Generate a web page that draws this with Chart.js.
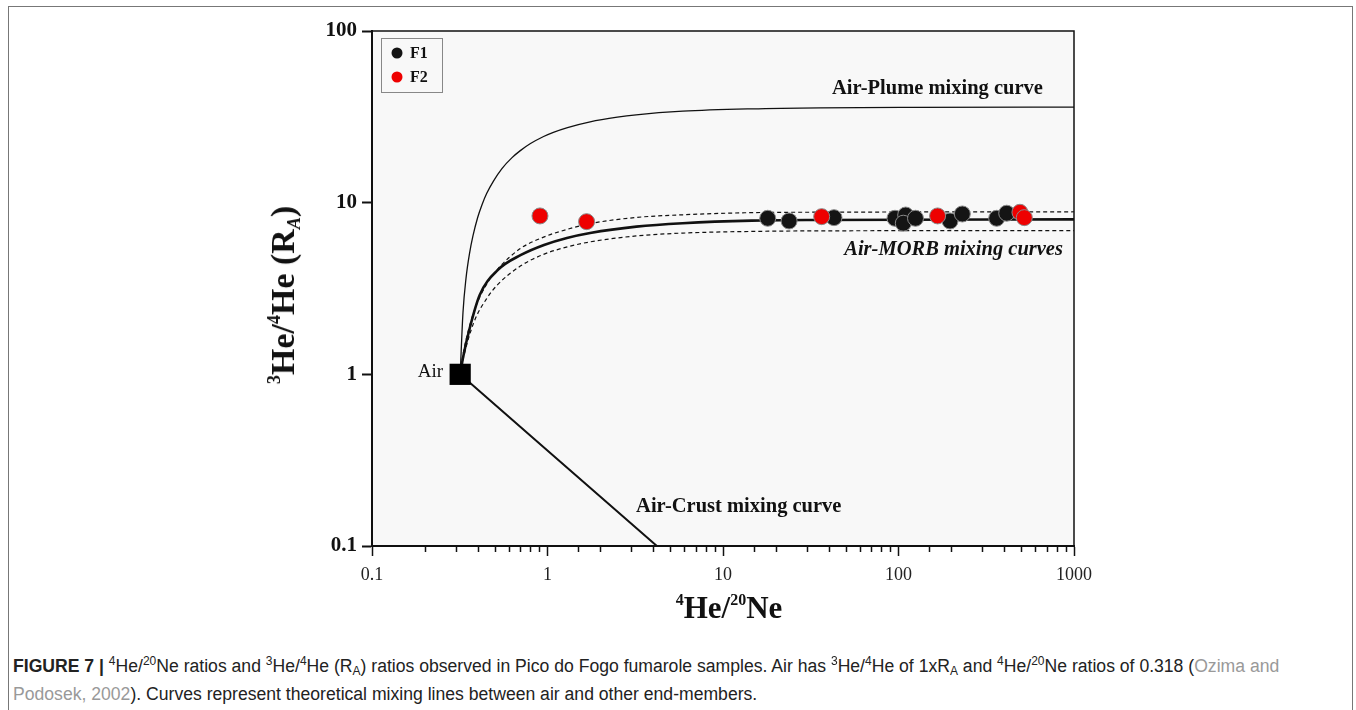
<!DOCTYPE html>
<html>
<head>
<meta charset="utf-8">
<script src="https://cdn.jsdelivr.net/npm/chart.js@4.4.1/dist/chart.umd.min.js"></script>
<style>
  body { margin: 0; background: #fff; width: 1356px; height: 710px; overflow: hidden; position: relative; }
  #frame { position: absolute; left: 8px; top: 6px; width: 1345px; height: 760px; border: 1px solid #777; box-sizing: border-box; }
  #graph { position: absolute; left: 0; top: 0; }
  .axis-title { position: absolute; font-family: 'Liberation Serif', serif; font-weight: bold; color: #111; white-space: nowrap; line-height: 1; }
  #ytitle { left: 283px; top: 295px; font-size: 34px; transform: translate(-50%, -50%) rotate(-90deg); }
  #ytitle .up { font-size: 18px; position: relative; top: -14px; }
  #ytitle .dn { font-size: 18px; font-style: italic; position: relative; top: 6px; }
  #xtitle { left: 729px; top: 607px; font-size: 31px; transform: translate(-50%, -50%); }
  #xtitle .up { font-size: 16px; position: relative; top: -13px; }
  #caption { position: absolute; left: 13px; top: 653px; font-family: 'Liberation Sans', Arial, sans-serif; font-size: 17.6px; line-height: 26px; color: #222; white-space: nowrap; }
  #caption .up { font-size: 12px; position: relative; top: -7px; }
  #caption .dn { font-size: 12px; position: relative; top: 3px; }
  #caption .ref { color: #999; }
</style>
</head>
<body>
<div id="frame"></div>
<canvas id="graph" width="1356" height="640"></canvas>
<div class="axis-title" id="ytitle"><span class="up">3</span>He/<span class="up">4</span>He (R<span class="dn">A</span>)</div>
<div class="axis-title" id="xtitle"><span class="up">4</span>He/<span class="up">20</span>Ne</div>
<div id="caption">
  <b>FIGURE 7 |</b> <span class="up">4</span>He/<span class="up">20</span>Ne ratios and <span class="up">3</span>He/<span class="up">4</span>He (R<span class="dn">A</span>) ratios observed in Pico do Fogo fumarole samples. Air has <span class="up">3</span>He/<span class="up">4</span>He of 1xR<span class="dn">A</span> and <span class="up">4</span>He/<span class="up">20</span>Ne ratios of 0.318 (<span class="ref">Ozima and</span><br>
  <span class="ref">Podosek, 2002</span>). Curves represent theoretical mixing lines between air and other end-members.
</div>

<script>
// fumarole samples, 4He/20Ne vs 3He/4He (RA)
let f1X = [17.98, 23.8, 42.9, 95.5, 109.9, 106.5, 125, 196.6, 231, 362.6, 413.6];
let f1Y = [8.11, 7.82, 8.18, 8.11, 8.47, 7.59, 8.11, 7.82, 8.59, 8.11, 8.68];

let f2X = [0.906, 1.67, 36.5, 167, 492, 521];
let f2Y = [8.37, 7.75, 8.29, 8.37, 8.79, 8.18];

// air end-member
let airX = [0.318];
let airY = [1];

// mixing curves
let plumeX = [0.318, 0.33, 0.343, 0.36, 0.376, 0.40, 0.423, 0.45, 0.493, 0.55, 0.628, 0.70, 0.80, 0.95, 1.08, 1.3, 1.75, 2.5, 3.2, 5.9, 14.6, 36, 121, 1000];
let plumeY = [1, 2.3, 3.6, 5.1, 6.4, 8.2, 9.7, 11.3, 13.4, 15.8, 18.3, 20.1, 22.1, 24.3, 25.7, 27.4, 29.6, 31.5, 32.5, 34.1, 35.2, 35.7, 35.9, 36];

let morbX = [0.318, 0.33, 0.36, 0.411, 0.522, 0.706, 0.955, 1.29, 1.75, 3.21, 5.89, 14.6, 36.1, 1000];
let morbY = [1, 1.25, 1.85, 2.9, 4.06, 4.96, 5.67, 6.23, 6.66, 7.25, 7.59, 7.86, 7.93, 7.99];

let morbHiX = [0.318, 0.33, 0.38, 0.45, 0.52, 0.70, 0.95, 1.3, 1.75, 3.2, 5.9, 14.6, 36, 1000];
let morbHiY = [1, 1.3, 2.3, 3.35, 4.1, 5.4, 6.3, 7.0, 7.55, 8.2, 8.5, 8.75, 8.8, 8.85];

let morbLoX = [0.318, 0.33, 0.38, 0.45, 0.52, 0.70, 0.95, 1.3, 1.75, 3.2, 5.9, 14.6, 36, 1000];
let morbLoY = [1, 1.22, 2.0, 2.76, 3.33, 4.27, 5.0, 5.53, 5.91, 6.4, 6.65, 6.8, 6.85, 6.88];

let crustX = [0.318, 4.2];
let crustY = [1, 0.1];

let xTicks = [0.1, 1, 10, 100, 1000];
let yTicks = [0.1, 1, 10, 100];

function pts(xs, ys) {
    return xs.map((v, i) => ({ x: v, y: ys[i] }));
}

function isDecade(v) {
    let l = Math.log10(v);
    return Math.abs(l - Math.round(l)) < 1e-6;
}

function curve(xs, ys, width, dash, order) {
    return {
        data: pts(xs, ys),
        showLine: true,
        borderColor: '#111',
        borderWidth: width,
        borderDash: dash,
        pointRadius: 0,
        cubicInterpolationMode: 'monotone',
        order: order
    };
}

const serif = '"Liberation Serif", "Times New Roman", serif';

// grey plot area behind everything
const plotBg = {
    id: 'plotBg',
    beforeDraw(chart) {
        let a = chart.chartArea, ctx = chart.ctx;
        ctx.save();
        ctx.fillStyle = '#f8f8f8';
        ctx.fillRect(a.left, a.top, a.right - a.left, a.bottom - a.top);
        ctx.restore();
    }
};

// short minor ticks on the x axis, frame, legend and text labels
const extras = {
    id: 'extras',
    afterDraw(chart) {
        let ctx = chart.ctx, a = chart.chartArea;
        let x = chart.scales.x, y = chart.scales.y;
        ctx.save();

        ctx.strokeStyle = '#111';
        ctx.lineWidth = 1.5;
        x.ticks.forEach(t => {
            if (isDecade(t.value)) return;
            let px = Math.round(x.getPixelForValue(t.value)) + 0.5;
            ctx.beginPath();
            ctx.moveTo(px, a.bottom);
            ctx.lineTo(px, a.bottom + 6);
            ctx.stroke();
        });

        ctx.lineWidth = 1.5;
        ctx.strokeRect(a.left, a.top, a.right - a.left, a.bottom - a.top);

        // legend box
        let lx = a.left + 9, ly = a.top + 7;
        ctx.fillStyle = '#f8f8f8';
        ctx.fillRect(lx, ly, 61, 54);
        ctx.strokeStyle = '#888';
        ctx.lineWidth = 1;
        ctx.strokeRect(lx + 0.5, ly + 0.5, 61, 54);
        [0, 1].forEach((di, k) => {
            let ds = chart.data.datasets[di];
            ctx.beginPath();
            ctx.arc(lx + 16, ly + 15 + k * 24, 5.5, 0, Math.PI * 2);
            ctx.fillStyle = ds.backgroundColor;
            ctx.fill();
            ctx.fillStyle = '#111';
            ctx.font = 'bold 16px ' + serif;
            ctx.textAlign = 'left';
            ctx.textBaseline = 'middle';
            ctx.fillText(ds.label, lx + 29, ly + 16 + k * 24);
        });

        // curve names
        ctx.fillStyle = '#111';
        ctx.textBaseline = 'middle';
        ctx.font = 'bold 20.5px ' + serif;
        ctx.textAlign = 'right';
        ctx.fillText('Air-Plume mixing curve', x.getPixelForValue(665), y.getPixelForValue(46));
        ctx.font = 'italic bold 20.5px ' + serif;
        ctx.fillText('Air-MORB mixing curves', x.getPixelForValue(865), y.getPixelForValue(5.3));
        ctx.font = 'bold 20.5px ' + serif;
        ctx.textAlign = 'center';
        ctx.fillText('Air-Crust mixing curve', x.getPixelForValue(12.3), y.getPixelForValue(0.169));
        ctx.font = '19px ' + serif;
        ctx.textAlign = 'right';
        ctx.fillText('Air', x.getPixelForValue(airX[0]) - 17, y.getPixelForValue(airY[0]) - 2);

        ctx.restore();
    }
};

let ctx = document.querySelector('#graph').getContext('2d');

let myChart = new Chart(ctx, {
    type: 'scatter',
    data: {
        datasets: [
            {
                label: 'F1',
                data: pts(f1X, f1Y),
                backgroundColor: '#141414',
                borderColor: '#8a8a8a',
                borderWidth: 1,
                pointRadius: 8,
                order: 1
            },
            {
                label: 'F2',
                data: pts(f2X, f2Y),
                backgroundColor: '#ee0000',
                borderColor: '#8a8a8a',
                borderWidth: 1,
                pointRadius: 8,
                order: 0
            },
            {
                label: 'Air',
                data: pts(airX, airY),
                pointStyle: 'rect',
                pointRadius: 15,
                backgroundColor: '#000',
                borderColor: '#000',
                borderWidth: 0,
                order: 2
            },
            curve(plumeX, plumeY, 1.3, [], 3),
            curve(morbX, morbY, 2.6, [], 3),
            curve(morbHiX, morbHiY, 1.2, [4, 3], 3),
            curve(morbLoX, morbLoY, 1.2, [4, 3], 3),
            curve(crustX, crustY, 2, [], 3)
        ]
    },
    options: {
        responsive: false,
        animation: false,
        devicePixelRatio: 1,
        events: [],
        layout: { padding: { left: 0, top: 31, right: 282, bottom: 34 } },
        plugins: {
            legend: { display: false },
            tooltip: { enabled: false }
        },
        scales: {
            x: {
                type: 'logarithmic',
                min: 0.1,
                max: 1000,
                afterFit: s => { s.height = 60; },
                border: { color: '#111', width: 2 },
                grid: {
                    drawOnChartArea: false,
                    tickLength: 10,
                    tickWidth: 1.5,
                    tickColor: c => isDecade(c.tick.value) ? '#111' : 'rgba(0,0,0,0)'
                },
                ticks: {
                    autoSkip: false,
                    maxRotation: 0,
                    padding: 8,
                    color: '#222',
                    font: { family: serif, size: 18 },
                    callback: v => xTicks.includes(v) ? String(v) : ''
                }
            },
            y: {
                type: 'logarithmic',
                min: 0.1,
                max: 100,
                afterFit: s => { s.width = 372; },
                afterBuildTicks: s => { s.ticks = yTicks.map(v => ({ value: v })); },
                border: { color: '#111', width: 2 },
                grid: {
                    drawOnChartArea: false,
                    tickLength: 10,
                    tickWidth: 2,
                    tickColor: '#111'
                },
                ticks: {
                    padding: 5,
                    color: '#111',
                    font: { family: serif, size: 21, weight: 'bold' },
                    callback: v => String(v)
                }
            }
        }
    },
    plugins: [plotBg, extras]
});
</script>
</body>
</html>
